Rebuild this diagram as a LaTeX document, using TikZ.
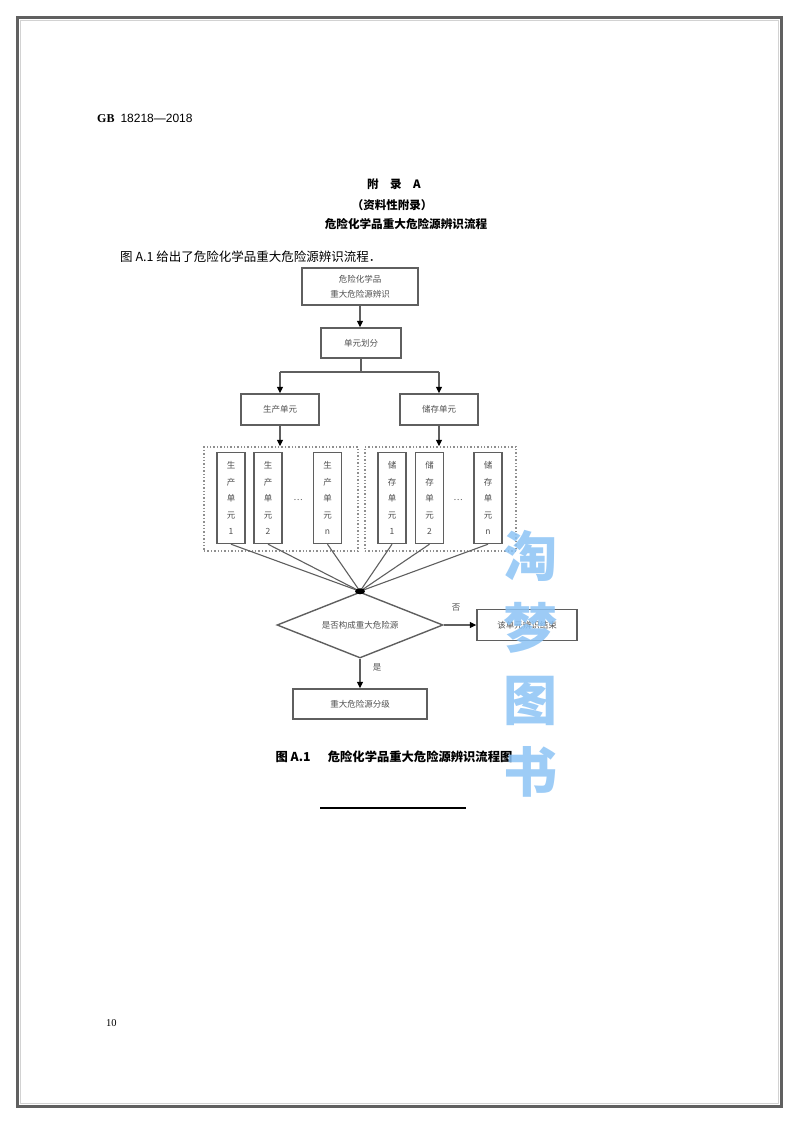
\documentclass[tikz,border=0pt]{standalone}
\usepackage{fontspec}
\setmainfont{Liberation Serif}
\newfontfamily\cjk{Noto Sans CJK SC}
\usetikzlibrary{shapes.geometric,arrows.meta}
\definecolor{boxline}{RGB}{95,95,95}
\definecolor{boxtext}{RGB}{80,80,80}
\definecolor{wmblue}{RGB}{140,195,245}
\tikzset{
  box/.style={draw=boxline, line width=1.4pt, fill=white, inner sep=0pt, font=\cjk\fontsize{8.5}{15}\selectfont, text=boxtext, align=center},
  vbox/.style={box, minimum width=28pt, minimum height=91pt, font=\cjk\fontsize{8.5}{16.5}\selectfont},
  grp/.style={draw=boxline!70, line width=1.4pt, dotted},
  arr/.style={draw=boxline, line width=1.1pt, -{Triangle[length=6.5pt,width=6pt,color=black]}},
  conn/.style={draw=boxline, line width=1.1pt},
  lbl/.style={font=\cjk\fontsize{8.5}{10}\selectfont, text=boxtext, inner sep=0pt},
}
\begin{document}
\begin{tikzpicture}[x=1pt,y=-1pt]
\useasboundingbox (0,0) rectangle (800,1125);
% page frame
\draw[line width=3pt, draw=gray!75!black] (17,17) rectangle (781,1106);
\draw[line width=1pt, draw=gray!35] (20,20) rectangle (778,1103);

% header texts
\node[anchor=west, inner sep=0pt, font=\fontsize{12}{14}\selectfont\bfseries] (hdr) at (97,118) {GB\ \ {\fontspec{Liberation Sans}\mdseries 18218—2018}};
\node[inner sep=0pt, font=\cjk\fontsize{11.5}{14}\selectfont\bfseries] (t1) at (394,184) {附\hspace{1em}录\hspace{1em}A};
\node[inner sep=0pt, font=\cjk\fontsize{11.5}{14}\selectfont\bfseries] (t2) at (392,205) {（资料性附录）};
\node[inner sep=0pt, font=\cjk\fontsize{11.6}{14}\selectfont\bfseries] (t3) at (406,224) {危险化学品重大危险源辨识流程};
\node[anchor=west, inner sep=0pt, font=\cjk\fontsize{12.5}{14}\selectfont] (body) at (120,257) {图 A.1 给出了危险化学品重大危险源辨识流程．};

% flow boxes
\node[box, minimum width=116pt, minimum height=37pt] (n1) at (360,286.5) {危险化学品\\重大危险源辨识};
\node[box, minimum width=80pt, minimum height=30pt] (n2) at (361,343) {单元划分};
\node[box, minimum width=78pt, minimum height=31pt] (prod) at (280,409.5) {生产单元};
\node[box, minimum width=78pt, minimum height=31pt] (stor) at (439,409.5) {储存单元};

\draw[arr] (n1.south) -- (n1.south |- n2.north);
\coordinate (sp) at (361,372);
\coordinate (spL) at (280,372);
\coordinate (spR) at (439,372);
\draw[conn] (n2.south) -- (sp);
\draw[conn] (spL) -- (spR);
\draw[arr] (spL) -- (prod.north);
\draw[arr] (spR) -- (stor.north);

% dotted groups
\node[grp, minimum width=154pt, minimum height=104pt, inner sep=0pt] (gL) at (281,499) {};
\node[grp, minimum width=151pt, minimum height=104pt, inner sep=0pt] (gR) at (440.5,499) {};
\draw[arr] (prod.south) -- (prod.south |- gL.north);
\draw[arr] (stor.south) -- (stor.south |- gR.north);

% inner unit boxes
\node[vbox] (L1) at (231,498) {生\\产\\单\\元\\1};
\node[vbox] (L2) at (268,498) {生\\产\\单\\元\\2};
\node[lbl] (Ld) at (298,500) {…};
\node[vbox] (Ln) at (327.5,498) {生\\产\\单\\元\\\textit{n}};
\node[vbox] (R1) at (392,498) {储\\存\\单\\元\\1};
\node[vbox] (R2) at (429.5,498) {储\\存\\单\\元\\2};
\node[lbl] (Rd) at (458,500) {…};
\node[vbox] (Rn) at (488,498) {储\\存\\单\\元\\\textit{n}};

% decision
\node[draw=boxline, line width=1.4pt, shape=diamond, aspect=2.5, minimum width=166pt, minimum height=66pt, inner sep=0pt, font=\cjk\fontsize{8.5}{10}\selectfont, text=boxtext] (d) at (360,625) {是否构成重大危险源};
\coordinate (J) at (d.north);
\foreach \b in {L1,L2,Ln,R1,R2,Rn}{
  \draw[conn] (\b.south) -- (J);
}
\fill[black] (J) ellipse (5pt and 3pt);

\node[box, minimum width=100pt, minimum height=31pt] (e) at (527,625) {该单元辨识结束};
\node[box, minimum width=134pt, minimum height=30pt] (g) at (360,704) {重大危险源分级};
\draw[arr] (d.east) -- (e.west);
\draw[arr] (d.south) -- (g.north);
\node[lbl] (no) at (456,608) {否};
\node[lbl] (yes) at (377,667) {是};

% caption
\node[inner sep=0pt, font=\cjk\fontsize{12.3}{14}\selectfont\bfseries] (cap) at (394,757) {图 A.1\hspace{1.4em}危险化学品重大危险源辨识流程图};
\coordinate (r1) at (320,808);
\coordinate (r2) at (466,808);
\draw[line width=1.3pt] (r1) -- (r2);

% page number
\node[inner sep=0pt, font=\fontsize{10.5}{12}\selectfont, anchor=west] (pg) at (106,1023) {10};

% watermark
\node[inner sep=0pt, text=wmblue, opacity=0.85, align=center, font=\cjk\fontsize{54}{72}\selectfont\bfseries] (wm) at (530,664) {淘\\梦\\图\\书};
\end{tikzpicture}
\end{document}
